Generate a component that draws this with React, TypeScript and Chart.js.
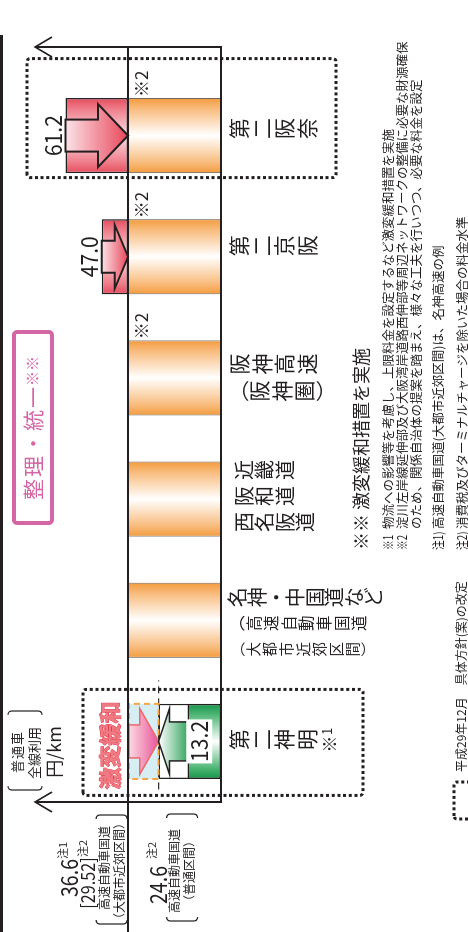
import React, { useEffect, useRef } from "react";
import { Chart, registerables } from "chart.js";
Chart.register(...registerables);

// ---------- data ----------
const categoryKeys = ["第二神明", "名神・中国道など", "近畿道・阪和道・西名阪道", "阪神高速", "第二京阪", "第二阪奈"];
const categoryColumns: string[][] = [
  ["第二神明※1"],
  ["名神・中国道など", "（高速自動車国道", "（大都市近郊区間）"],
  ["近畿道", "阪和道", "西名阪道"],
  ["阪神高速", "（阪神圏）"],
  ["第二京阪"],
  ["第二阪奈"],
];
const unifiedRate = 36.6;
const mitigatedRate = 24.6;
const unifiedRates = [null, 36.6, 36.6, 36.6, 36.6, 36.6];
const mitigatedRates = [24.6, null, null, null, null, null];
const currentRates = [13.2, null, null, null, 47.0, 61.2];
const note2Marks = ["", "", "", "※2", "※2", "※2"];
const urbanLevelText = ["36.6", "注1", "[29.52]", "注2", "高速自動車国道", "（大都市近郊区間）"];
const normalLevelText = ["24.6", "注2", "高速自動車国道", "（普通区間）"];
const unitText = ["普通車", "全線利用", "円/km"];
const boxTitle = ["整理・統一", "※※"];
const mitigationText = "激変緩和";
const notes = [
  ["※※", "激変緩和措置を実施"],
  ["※1", "物流への影響等を考慮し、上限料金を設定するなど激変緩和措置を実施"],
  ["※2", "淀川左岸線延伸部及び大阪湾岸道路西伸部等周辺ネットワークの整備に必要な財源確保"],
  ["", "のため、関係自治体の提案を踏まえ、様々な工夫を行いつつ、必要な料金を設定"],
  ["注1)", "高速自動車国道(大都市近郊区間)は、名神高速の例"],
  ["注2)", "消費税及びターミナルチャージを除いた場合の料金水準"],
];
const legendText = "平成29年12月　具体方針(案)の改定";

// ---------- style ----------
const W = 932;
const H = 468;
const BAR_PCT = 0.62;
const INK = "#231f20";
const JP = '"Noto Sans CJK JP", "Noto Sans", sans-serif';

function grad(ctx: CanvasRenderingContext2D, x0: number, x1: number, edge: string, mid: string, soft: string) {
  const g = ctx.createLinearGradient(x0, 0, x1, 0);
  g.addColorStop(0, edge);
  g.addColorStop(0.14, soft);
  g.addColorStop(0.5, mid);
  g.addColorStop(0.86, soft);
  g.addColorStop(1, edge);
  return g;
}

function barFill(edge: string, mid: string, soft: string) {
  return (c: any) => {
    const chart = c.chart;
    const xs = chart.scales?.x;
    if (!chart.chartArea || !xs || c.dataIndex === undefined) return edge;
    const cx = xs.getPixelForValue(c.dataIndex);
    const w = (xs.width / categoryKeys.length) * BAR_PCT;
    return grad(chart.ctx, cx - w / 2, cx + w / 2, edge, mid, soft);
  };
}

function hText(ctx: CanvasRenderingContext2D, t: string, x: number, y: number, size: number, opts: any = {}) {
  ctx.save();
  ctx.font = `${opts.bold ? "bold " : ""}${size}px ${JP}`;
  ctx.fillStyle = opts.color || INK;
  ctx.textAlign = opts.align || "left";
  ctx.textBaseline = "middle";
  const sx = opts.sx || 1;
  ctx.translate(x, y);
  ctx.scale(sx, 1);
  if (opts.spacing) (ctx as any).letterSpacing = `${opts.spacing}px`;
  if (opts.stroke) {
    ctx.strokeStyle = opts.stroke;
    ctx.lineWidth = opts.strokeWidth || 1;
    ctx.lineJoin = "round";
    ctx.strokeText(t, 0, 0);
  }
  ctx.fillText(t, 0, 0);
  ctx.restore();
}

function vText(ctx: CanvasRenderingContext2D, t: string, x: number, yTop: number, size: number, pitch: number) {
  ctx.save();
  ctx.fillStyle = INK;
  ctx.textAlign = "center";
  ctx.textBaseline = "middle";
  const chars = Array.from(t);
  let y = yTop;
  for (let i = 0; i < chars.length; i++) {
    const ch = chars[i];
    const next = chars[i + 1];
    if (ch === "※" && next && /[0-9]/.test(next)) {
      ctx.font = `${size * 0.8}px ${JP}`;
      ctx.fillText(ch, x - size * 0.22, y + pitch / 2);
      ctx.font = `${size * 0.62}px ${JP}`;
      ctx.fillText(next, x + size * 0.38, y + pitch / 2 - 2);
      y += pitch;
      i++;
      continue;
    }
    let c = ch;
    let adv = pitch;
    if (ch === "（") { c = "︵"; adv = pitch * 0.9; }
    if (ch === "）") { c = "︶"; adv = pitch * 0.9; }
    ctx.font = `${size}px ${JP}`;
    ctx.fillText(c, x, y + adv / 2);
    y += adv;
  }
  ctx.restore();
}

function bracket(ctx: CanvasRenderingContext2D, x: number, y0: number, y1: number, dir: number) {
  ctx.save();
  ctx.strokeStyle = INK;
  ctx.lineWidth = 1.2;
  ctx.beginPath();
  ctx.moveTo(x, y0);
  ctx.quadraticCurveTo(x - 4 * dir, y0, x - 4 * dir, y0 + 4);
  ctx.lineTo(x - 4 * dir, y1 - 4);
  ctx.quadraticCurveTo(x - 4 * dir, y1, x, y1);
  ctx.stroke();
  ctx.restore();
}

function line(ctx: CanvasRenderingContext2D, x0: number, y0: number, x1: number, y1: number, w = 2, color = INK, dash: number[] = []) {
  ctx.save();
  ctx.strokeStyle = color;
  ctx.lineWidth = w;
  ctx.setLineDash(dash);
  ctx.beginPath();
  ctx.moveTo(x0, y0);
  ctx.lineTo(x1, y1);
  ctx.stroke();
  ctx.restore();
}

function dottedBox(ctx: CanvasRenderingContext2D, x0: number, y0: number, x1: number, y1: number) {
  ctx.save();
  ctx.strokeStyle = INK;
  ctx.lineWidth = 3;
  ctx.setLineDash([3, 2.7]);
  ctx.beginPath();
  (ctx as any).roundRect(x0, y0, x1 - x0, y1 - y0, 3);
  ctx.stroke();
  ctx.restore();
}

function arrow(ctx: CanvasRenderingContext2D, cx: number, yStart: number, yTip: number, shaftW: number, headW: number, headLen: number, fill: any, stroke: string, lw: number) {
  const d = Math.sign(yTip - yStart);
  const yb = yTip - d * headLen;
  ctx.save();
  ctx.beginPath();
  ctx.moveTo(cx - shaftW / 2, yStart);
  ctx.lineTo(cx - shaftW / 2, yb);
  ctx.lineTo(cx - headW / 2, yb);
  ctx.lineTo(cx, yTip);
  ctx.lineTo(cx + headW / 2, yb);
  ctx.lineTo(cx + shaftW / 2, yb);
  ctx.lineTo(cx + shaftW / 2, yStart);
  ctx.closePath();
  ctx.fillStyle = fill;
  ctx.fill();
  ctx.strokeStyle = stroke;
  ctx.lineWidth = lw;
  ctx.lineJoin = "miter";
  ctx.stroke();
  ctx.restore();
}

const decorPlugin = {
  id: "decor",
  afterDatasetsDraw(chart: any) {
    const ctx: CanvasRenderingContext2D = chart.ctx;
    const xs = chart.scales.x;
    const ys = chart.scales.y;
    const area = chart.chartArea;
    const slot = xs.width / categoryKeys.length;
    const bw = slot * BAR_PCT;
    const uy = ys.getPixelForValue(unifiedRate);
    const my = ys.getPixelForValue(mitigatedRate);
    const by = ys.getPixelForValue(0);
    const leftX = area.left;
    const rightX = area.right + 28;
    const axisTop = 35;

    line(ctx, 0, 1.5, rightX + 12, 1.5, 3);

    // red arrows inside raised bars
    currentRates.forEach((v, i) => {
      if (v == null || v <= unifiedRate) return;
      const cx = xs.getPixelForValue(i);
      const ty = ys.getPixelForValue(v);
      const len = uy - ty;
      const head = Math.min(30, len * 0.5);
      const g = ctx.createLinearGradient(0, ty, 0, uy);
      g.addColorStop(0, "#fbe3e8");
      g.addColorStop(1, "#e8475a");
      arrow(ctx, cx, ty, uy, 32, 63, head, g, INK, 2);
      hText(ctx, v.toFixed(1), cx, ty - 13, 24, { align: "center", sx: 0.88 });
    });

    // mitigation column (category 0)
    mitigatedRates.forEach((v, i) => {
      if (v == null) return;
      const cx = xs.getPixelForValue(i);
      const x0 = cx - bw / 2;
      ctx.save();
      ctx.fillStyle = "#d6edf3";
      ctx.fillRect(x0, uy, bw, my - uy);
      ctx.restore();
      line(ctx, cx - 48, my, cx + 61, my, 1.2, "#333", [7, 5]);
      ctx.save();
      ctx.strokeStyle = "#f4a544";
      ctx.lineWidth = 2;
      ctx.setLineDash([6, 4]);
      ctx.strokeRect(x0, uy + 1, bw, my - uy - 1);
      ctx.restore();
      const pg = ctx.createLinearGradient(0, uy, 0, my);
      pg.addColorStop(0, "#fbdde4");
      pg.addColorStop(1, "#e9559a");
      arrow(ctx, cx, uy + 1, my, 33, 66, (my - uy) * 0.62, pg, "#ea6a6a", 1.5);
      const cv = currentRates[i] as number;
      const gy = ys.getPixelForValue(cv);
      const gg = ctx.createLinearGradient(0, my, 0, gy + 4);
      gg.addColorStop(0, "#ffffff");
      gg.addColorStop(1, "#1f9b4d");
      arrow(ctx, cx, gy + 4, my, 39, 66, (gy - my) * 0.38, gg, INK, 1.5);
      const ly = (gy + by) / 2 - 5;
      ctx.save();
      ctx.fillStyle = "#ffffff";
      ctx.fillRect(cx - 22, ly - 13, 44, 26);
      ctx.restore();
      hText(ctx, cv.toFixed(1), cx, ly, 24, { align: "center", sx: 0.88 });
      hText(ctx, mitigationText, cx - 4, uy - 18, 22, { align: "center", bold: true, color: "#f07a84", stroke: "#e3414f", strokeWidth: 1 });
      dottedBox(ctx, cx - 54, uy - 45, cx + 52, 363);
    });

    // frame lines
    line(ctx, 0, uy, rightX, uy, 2);
    line(ctx, leftX, by, rightX, by, 2);
    [leftX, rightX].forEach((x) => {
      line(ctx, x, axisTop, x, by + 1, 2);
      ctx.save();
      ctx.strokeStyle = INK;
      ctx.lineWidth = 1.6;
      ctx.beginPath();
      ctx.moveTo(x - 10, axisTop + 17);
      ctx.lineTo(x, axisTop);
      ctx.lineTo(x + 10, axisTop + 17);
      ctx.stroke();
      ctx.restore();
    });

    note2Marks.forEach((m, i) => {
      if (!m) return;
      const cx = xs.getPixelForValue(i);
      hText(ctx, m, cx + bw / 2 + 1, uy + 13, 17, {});
    });

    const maxCur = Math.max(...(currentRates.filter((q) => q != null) as number[]));
    currentRates.forEach((v, i) => {
      if (v !== maxCur) return;
      const cx = xs.getPixelForValue(i);
      dottedBox(ctx, cx - 42, axisTop - 8, cx + 77, 336);
    });

    // category labels (vertical writing)
    const colOffsets: number[][] = [[2], [23, -3, -29], [29, 3, -23], [14, -13], [11], [7]];
    categoryColumns.forEach((cols, i) => {
      const cx = xs.getPixelForValue(i);
      cols.forEach((t, j) => {
        const x = cx + colOffsets[i][j];
        if (i === 1) {
          if (j === 0) vText(ctx, t, x, by + 7, 20, 19.4);
          else if (j === 1) vText(ctx, t, x, by + 8, 15.5, 17.6);
          else vText(ctx, t, x, by + 9, 14.5, 16.6);
        } else if (i === 2) {
          vText(ctx, t, x, by + 13, 20, 20.5);
        } else {
          vText(ctx, t, x, by + 7, 21, 22.5);
        }
      });
    });

    // level labels at left
    hText(ctx, urbanLevelText[0], 54, uy - 59, 23, { align: "center", sx: 0.85 });
    hText(ctx, urbanLevelText[1], 73, uy - 65, 11, {});
    hText(ctx, urbanLevelText[2], 49, uy - 40, 19, { align: "center", sx: 0.85 });
    hText(ctx, urbanLevelText[3], 75, uy - 45, 11, {});
    hText(ctx, urbanLevelText[4], 64, uy - 24, 12, { align: "center" });
    hText(ctx, urbanLevelText[5], 61, uy - 9, 12, { align: "center" });
    bracket(ctx, 12, uy - 32, uy - 1, 1);
    bracket(ctx, 113, uy - 32, uy - 1, -1);

    hText(ctx, normalLevelText[0], 47, my, 23, { align: "center", sx: 0.85 });
    hText(ctx, normalLevelText[1], 73, my - 7, 11, {});
    hText(ctx, normalLevelText[2], 61, my + 16, 12, { align: "center" });
    hText(ctx, normalLevelText[3], 61, my + 31, 12, { align: "center" });
    bracket(ctx, 15, my + 8, my + 39, 1);
    bracket(ctx, 114, my + 8, my + 39, -1);

    // unit
    hText(ctx, unitText[0], leftX + 50, 17.5, 13, { align: "center", spacing: 1 });
    hText(ctx, unitText[1], leftX + 49, 34.5, 13, { align: "center" });
    hText(ctx, unitText[2], leftX + 50, 54, 18, { align: "center" });
    bracket(ctx, leftX + 16, 8, 42, 1);
    bracket(ctx, leftX + 87, 8, 42, -1);

    // pink title box
    ctx.save();
    ctx.strokeStyle = "#d466a6";
    ctx.lineWidth = 4;
    ctx.beginPath();
    (ctx as any).roundRect(409, 14, 191, 38, 3);
    ctx.stroke();
    ctx.restore();
    hText(ctx, boxTitle[0], 432, 33, 21, { color: "#d466a6", spacing: 2 });
    hText(ctx, boxTitle[1], 546, 32, 15, { color: "#d466a6", spacing: 0 });

    // notes
    const noteY = [361, 388, 402, 416, 438, 462];
    notes.forEach((n, k) => {
      if (k === 0) {
        hText(ctx, n[0] + " " + n[1], 382, noteY[k], 18, {});
      } else {
        if (n[0]) hText(ctx, n[0], 382, noteY[k], 12.5, { sx: 0.78 });
        hText(ctx, n[1], 403, noteY[k], 12.5, {});
      }
    });

    // legend
    dottedBox(ctx, 113, 454, 150, 476);
    hText(ctx, legendText, 160, 461, 12, {});
  },
};

export default function App() {
  const ref = useRef<HTMLCanvasElement | null>(null);
  useEffect(() => {
    document.body.style.margin = "0";
    document.body.style.overflow = "hidden";
    const canvas = ref.current!;
    const currentData = currentRates.map((v, i) =>
      v == null ? null : unifiedRates[i] != null && v > (unifiedRates[i] as number) ? [unifiedRates[i], v] : v
    );
    const chart = new Chart(canvas, {
      type: "bar",
      data: {
        labels: categoryKeys,
        datasets: [
          {
            label: "現行",
            data: currentData as any,
            order: 1,
            grouped: false,
            backgroundColor: (c: any) => {
              const v = currentRates[c.dataIndex ?? 0];
              return v != null && v < unifiedRate
                ? barFill("#139447", "#ffffff", "#4cb574")(c)
                : barFill("#e64b5c", "#fbe0e6", "#ee7b88")(c);
            },
            borderColor: INK,
            borderWidth: 1.5,
            borderSkipped: false,
          } as any,
          {
            label: "激変緩和",
            data: mitigatedRates,
            order: 2,
            grouped: false,
            backgroundColor: "#ffffff",
            borderColor: INK,
            borderWidth: 1.5,
            borderSkipped: false,
          } as any,
          {
            label: "整理・統一",
            data: unifiedRates,
            order: 3,
            grouped: false,
            backgroundColor: barFill("#f39b3d", "#ffffff", "#f8bb7c"),
            borderColor: "#6e6258",
            borderWidth: 1,
            borderSkipped: false,
          } as any,
        ],
      },
      options: {
        animation: false,
        responsive: false,
        events: [],
        layout: { padding: { left: 130, right: 75, top: 28, bottom: 247 } },
        datasets: { bar: { barPercentage: BAR_PCT, categoryPercentage: 1 } },
        scales: {
          x: { display: false, offset: true },
          y: { display: false, min: 0, max: 76 },
        },
        plugins: { legend: { display: false }, tooltip: { enabled: false } },
      },
      plugins: [decorPlugin],
    });
    return () => chart.destroy();
  }, []);

  return (
    <div
      style={{
        position: "absolute",
        left: 0,
        top: 0,
        width: W,
        height: H,
        background: "#ffffff",
        transformOrigin: "0 0",
        transform: `translateY(${W}px) rotate(-90deg)`,
      }}
    >
      <canvas ref={ref} width={W} height={H} style={{ width: W, height: H, display: "block" }} />
    </div>
  );
}
